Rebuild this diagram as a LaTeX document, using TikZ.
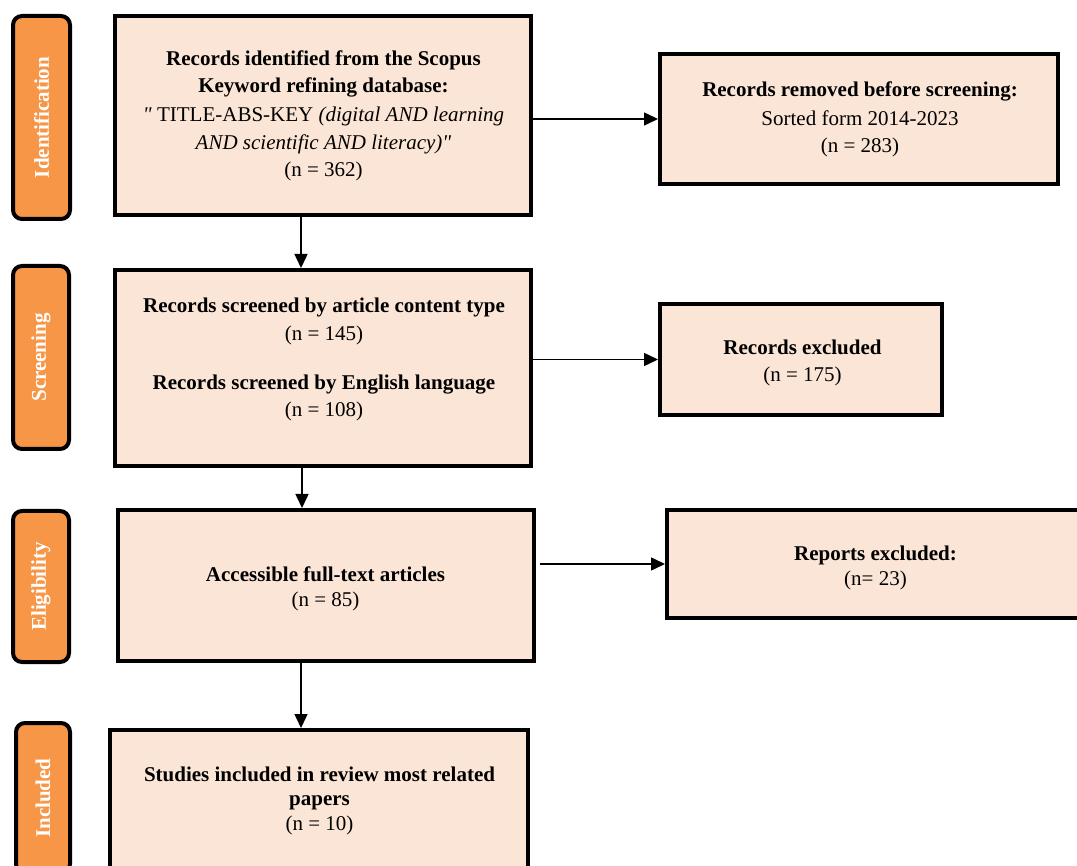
\documentclass[tikz,border=0pt]{standalone}
\usepackage{fontspec}
\setmainfont{Liberation Serif}[Ligatures=TeXOff]
\usetikzlibrary{arrows.meta}
\definecolor{boxfill}{HTML}{FBE5D6}
\definecolor{sidefill}{HTML}{F79646}
\begin{document}
\begin{tikzpicture}[x=1pt,y=-1pt,
  box/.style={draw=black, line width=4pt, fill=boxfill, inner sep=0pt},
  ln/.style={anchor=base, inner sep=0pt, font=\fontsize{21}{25}\selectfont},
  side/.style={draw=black, line width=4pt, fill=sidefill, rounded corners=9pt, inner sep=0pt, rotate=90, text=white, font=\fontsize{21}{24}\selectfont\bfseries},
  arr/.style={line width=1.5pt, -{Triangle[length=14pt,width=13pt]}}]
\useasboundingbox (0,0) rectangle (1077,866);
% phase labels
\node[side, minimum width=203, minimum height=57] (sid) at (41.5,117.5) {Identification};
\node[side, minimum width=183, minimum height=56] (sscr) at (41,357.5) {Screening};
\node[side, minimum width=151, minimum height=56] (selig) at (41,586.5) {Eligibility};
\node[side, minimum width=150, minimum height=54] (sinc) at (43,798) {Included};
% boxes
\node[box, minimum width=416, minimum height=199] (b1) at (323,115.5) {};
\node[box, minimum width=398, minimum height=130] (r1) at (859,119) {};
\node[box, minimum width=416, minimum height=196] (b2) at (323,368) {};
\node[box, minimum width=282, minimum height=111] (r2) at (801,359.5) {};
\node[box, minimum width=416, minimum height=151] (b3) at (326,585.5) {};
\node[box, minimum width=416, minimum height=108] (r3) at (875,564) {};
\node[box, minimum width=418, minimum height=138] (b4) at (319,799) {};
% texts
\node[ln] (b1a) at (323.5,66) {\textbf{Records identified from the Scopus}};
\node[ln] (b1b) at (323.5,93) {\textbf{Keyword refining database:}};
\node[ln] (b1c) at (323.5,122) {\textit{"} TITLE-ABS-KEY \textit{(digital AND learning}};
\node[ln] (b1d) at (323.5,150) {\textit{AND scientific AND literacy)"}};
\node[ln] (b1e) at (323.5,177) {(n = 362)};
\node[ln] (r1a) at (860,97) {\textbf{Records removed before screening:}};
\node[ln] (r1b) at (860,126) {Sorted form 2014-2023};
\node[ln] (r1c) at (860,153) {(n = 283)};
\node[ln] (b2a) at (324,313) {\textbf{Records screened by article content type}};
\node[ln] (b2b) at (324,341) {(n = 145)};
\node[ln] (b2c) at (324,390) {\textbf{Records screened by English language}};
\node[ln] (b2d) at (324,417) {(n = 108)};
\node[ln] (r2a) at (802.5,355) {\textbf{Records excluded}};
\node[ln] (r2b) at (802.5,382) {(n = 175)};
\node[ln] (b3a) at (325.5,581) {\textbf{Accessible full-text articles}};
\node[ln] (b3b) at (325.5,606) {(n = 85)};
\node[ln] (r3a) at (875.5,560) {\textbf{Reports excluded:}};
\node[ln] (r3b) at (875.5,585) {(n= 23)};
\node[ln] (b4a) at (319.5,781) {\textbf{Studies included in review most related}};
\node[ln] (b4b) at (319.5,805) {\textbf{papers}};
\node[ln] (b4c) at (319.5,830) {(n = 10)};
% connectors
\coordinate (c1) at (301,0);
\coordinate (c2) at (302,0);
\draw[arr] (b1.south -| c1) -- (b2.north -| c1);
\draw[arr] (b2.south -| c2) -- (b3.north -| c2);
\draw[arr] (b3.south -| c1) -- (b4.north -| c1);
\draw[arr] (b1.east |- r1.west) -- (r1.west);
\draw[arr] (b2.east |- r2.west) -- (r2.west);
\draw[arr] ([xshift=4pt]b3.east |- r3.west) -- (r3.west);
\end{tikzpicture}
\end{document}
